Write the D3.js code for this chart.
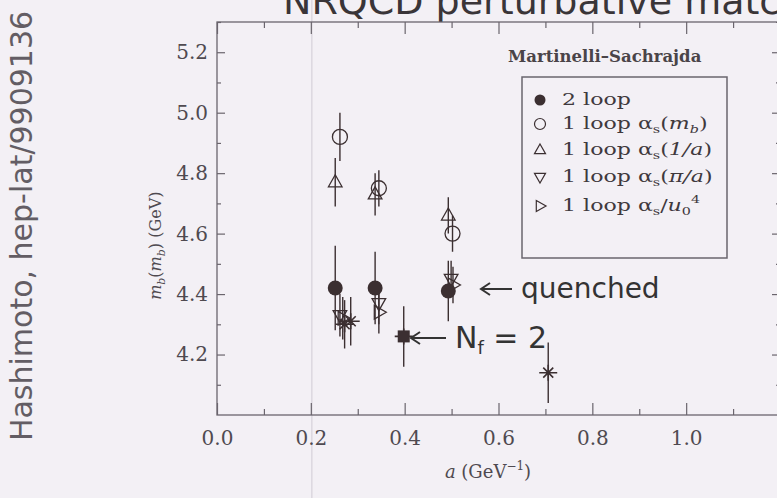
<!DOCTYPE html>
<html>
<head>
<meta charset="utf-8">
<script src="https://cdn.jsdelivr.net/npm/d3@7"></script>
<style>
  html, body { margin: 0; padding: 0; background: #f3f0f5; }
  svg { display: block; }
</style>
</head>
<body>
<svg id="chart" width="777" height="498"></svg>
<script>
// b-quark mass from NRQCD perturbative matching, quenched and N_f = 2 lattices
const xTicks = [0.0, 0.2, 0.4, 0.6, 0.8, 1.0];
const yTicks = [4.2, 4.4, 4.6, 4.8, 5.0, 5.2];
const legendLabels = ["2 loop", "1 loop αs(mb)", "1 loop αs(1/a)", "1 loop αs(π/a)", "1 loop αs/u0^4"];

// quenched results
const twoLoopA = [0.252, 0.337, 0.493];
const twoLoopM = [4.42, 4.42, 4.41];
const twoLoopErr = [0.14, 0.12, 0.10];

const alphaMbA = [0.262, 0.345, 0.502];
const alphaMbM = [4.92, 4.75, 4.60];
const alphaMbErr = [0.08, 0.06, 0.06];

const alphaInvA = [0.252, 0.337, 0.493];
const alphaInvM = [4.77, 4.73, 4.66];
const alphaInvErr = [0.08, 0.07, 0.06];

const alphaPiA = [0.262, 0.345, 0.499];
const alphaPiM = [4.33, 4.37, 4.45];
const alphaPiErr = [0.07, 0.07, 0.06];

const alphaU0A = [0.268, 0.345, 0.503];
const alphaU0M = [4.32, 4.34, 4.43];
const alphaU0Err = [0.07, 0.07, 0.06];

// N_f = 2 results
const nf2A = [0.272, 0.285, 0.398, 0.706];
const nf2M = [4.30, 4.31, 4.26, 4.14];
const nf2Err = [0.08, 0.08, 0.10, 0.10];
const nf2Filled = [false, false, true, false];

const svg = d3.select("#chart");
const W = 777, H = 498;
const ink = "#3b2f31";
const frameCol = "#6a656d";
const textCol = "#4f4a50";
const serif = "DejaVu Serif, serif";
const sans = "DejaVu Sans, sans-serif";

svg.append("rect").attr("width", W).attr("height", H).attr("fill", "#f3f0f5");

const x = d3.scaleLinear().domain([0, 1.2]).range([217, 780]);
const y = d3.scaleLinear().domain([4.0, 5.3]).range([415, 22]);

// faint vertical guide
svg.append("line")
  .attr("x1", x(0.2) + 1).attr("x2", x(0.2) + 1)
  .attr("y1", 0).attr("y2", H)
  .attr("stroke", "#dcd7df").attr("stroke-width", 1.5);

// title (runs past the top edge)
svg.append("text")
  .attr("x", 283).attr("y", 14)
  .attr("font-family", sans)
  .attr("font-size", 38)
  .attr("fill", "#3a3538")
  .text("NRQCD perturbative matching");

// side reference
svg.append("text")
  .attr("transform", "translate(32,226) rotate(-90)")
  .attr("text-anchor", "middle")
  .attr("font-family", sans)
  .attr("font-size", 30)
  .attr("fill", "#635d64")
  .text("Hashimoto, hep-lat/9909136");

// axes
const minorX = d3.range(0.1, 1.2, 0.2);
const minorY = d3.range(4.1, 5.3, 0.2);

function styleAxis(g) {
  g.select(".domain").remove();
  g.selectAll(".tick line").attr("stroke", frameCol).attr("stroke-width", 1.2);
  g.selectAll("text").attr("font-family", serif).attr("font-size", 20).attr("fill", textCol);
}

svg.append("g").attr("transform", `translate(0,${y(4.0)})`)
  .call(d3.axisBottom(x).tickValues(xTicks).tickFormat(d3.format(".1f")).tickSize(-12).tickPadding(16))
  .call(styleAxis);
svg.append("g").attr("transform", `translate(0,${y(4.0)})`)
  .call(d3.axisBottom(x).tickValues(minorX).tickFormat("").tickSize(-6))
  .call(styleAxis);
svg.append("g").attr("transform", `translate(0,${y(5.3)})`)
  .call(d3.axisTop(x).tickValues(xTicks.concat([1.2])).tickFormat("").tickSize(-12))
  .call(styleAxis);
svg.append("g").attr("transform", `translate(0,${y(5.3)})`)
  .call(d3.axisTop(x).tickValues(minorX).tickFormat("").tickSize(-6))
  .call(styleAxis);
svg.append("g").attr("transform", `translate(${x(0)},0)`)
  .call(d3.axisLeft(y).tickValues(yTicks).tickFormat(d3.format(".1f")).tickSize(-8).tickPadding(9))
  .call(styleAxis);
svg.append("g").attr("transform", `translate(${x(0)},0)`)
  .call(d3.axisLeft(y).tickValues(minorY).tickFormat("").tickSize(-4))
  .call(styleAxis);
svg.append("g").attr("transform", `translate(${x(1.2)},0)`)
  .call(d3.axisRight(y).tickValues(yTicks).tickFormat("").tickSize(-8))
  .call(styleAxis);
svg.append("g").attr("transform", `translate(${x(1.2)},0)`)
  .call(d3.axisRight(y).tickValues(minorY).tickFormat("").tickSize(-4))
  .call(styleAxis);

// frame
svg.append("rect")
  .attr("x", x(0)).attr("y", y(5.3))
  .attr("width", x(1.2) - x(0)).attr("height", y(4.0) - y(5.3))
  .attr("fill", "none").attr("stroke", frameCol).attr("stroke-width", 1.3);

// axis titles
const yLab = svg.append("text")
  .attr("transform", `translate(161,${y(4.56)}) rotate(-90)`)
  .attr("text-anchor", "middle")
  .attr("font-family", serif)
  .attr("font-size", 16)
  .attr("fill", textCol);
yLab.append("tspan").attr("font-style", "italic").text("m");
yLab.append("tspan").attr("font-size", 11).attr("dy", 4).attr("font-style", "italic").text("b");
yLab.append("tspan").attr("dy", -4).text("(");
yLab.append("tspan").attr("font-style", "italic").text("m");
yLab.append("tspan").attr("font-size", 11).attr("dy", 4).attr("font-style", "italic").text("b");
yLab.append("tspan").attr("dy", -4).text(") (GeV)");

const xLab = svg.append("text")
  .attr("x", 488).attr("y", 478)
  .attr("text-anchor", "middle")
  .attr("font-family", serif)
  .attr("font-size", 18)
  .attr("fill", textCol);
xLab.append("tspan").attr("font-style", "italic").text("a");
xLab.append("tspan").text(" (GeV");
xLab.append("tspan").attr("font-size", 12).attr("dy", -8).text("−1");
xLab.append("tspan").attr("dy", 8).text(")");

// marker shapes
function triPath(r, dir) {
  const h = r * 1.5, w = r * 1.7;
  if (dir === "up") return `M0,${-h * 0.62}L${w / 2},${h * 0.38}L${-w / 2},${h * 0.38}Z`;
  if (dir === "down") return `M0,${h * 0.62}L${w / 2},${-h * 0.38}L${-w / 2},${-h * 0.38}Z`;
  return `M${h * 0.62},0L${-h * 0.38},${w / 2}L${-h * 0.38},${-w / 2}Z`;
}

const plot = svg.append("g");

function drawErrors(A, M, E) {
  plot.selectAll(null).data(A.map((a, i) => ({a, m: M[i], e: E[i]})))
    .enter().append("line")
    .attr("x1", d => x(d.a)).attr("x2", d => x(d.a))
    .attr("y1", d => y(d.m + d.e)).attr("y2", d => y(d.m - d.e))
    .attr("stroke", ink).attr("stroke-width", 1.4);
}

function drawSeries(A, M, E, kind) {
  drawErrors(A, M, E);
  const pts = A.map((a, i) => ({a, m: M[i]}));
  const g = plot.selectAll(null).data(pts).enter().append("g")
    .attr("transform", d => `translate(${x(d.a)},${y(d.m)})`);
  if (kind === "filled") {
    g.append("circle").attr("r", 7.5).attr("fill", ink);
  } else if (kind === "open") {
    g.append("circle").attr("r", 7.5).attr("fill", "none").attr("stroke", ink).attr("stroke-width", 1.3);
  } else {
    g.append("path").attr("d", triPath(8, kind)).attr("fill", "none")
      .attr("stroke", ink).attr("stroke-width", 1.3);
  }
}

drawSeries(alphaMbA, alphaMbM, alphaMbErr, "open");
drawSeries(alphaInvA, alphaInvM, alphaInvErr, "up");
drawSeries(alphaPiA, alphaPiM, alphaPiErr, "down");
drawSeries(alphaU0A, alphaU0M, alphaU0Err, "right");
drawSeries(twoLoopA, twoLoopM, twoLoopErr, "filled");

// N_f = 2 points as asterisks
drawErrors(nf2A, nf2M, nf2Err);
const nf2 = plot.selectAll(null)
  .data(nf2A.map((a, i) => ({a, m: nf2M[i], f: nf2Filled[i]})))
  .enter().append("g")
  .attr("transform", d => `translate(${x(d.a)},${y(d.m)})`);
nf2.append("path")
  .attr("d", "M-9,0H9M-5,-5L5,5M-5,5L5,-5M0,-8V8")
  .attr("stroke", ink).attr("stroke-width", 1.6).attr("fill", "none");
nf2.filter(d => d.f).append("rect")
  .attr("x", -6).attr("y", -6).attr("width", 12).attr("height", 12)
  .attr("fill", ink);

// annotations
function arrow(x0, x1, yy) {
  svg.append("path")
    .attr("d", `M${x1},${yy}H${x0}M${x0 + 9},${yy - 6}L${x0},${yy}L${x0 + 9},${yy + 6}`)
    .attr("fill", "none").attr("stroke", "#333").attr("stroke-width", 2);
}
arrow(481, 512, 289);
svg.append("text")
  .attr("x", 521).attr("y", 298)
  .attr("font-family", sans)
  .attr("font-size", 28).attr("fill", "#333")
  .text("quenched");

arrow(411, 446, 338);
const nfText = svg.append("text")
  .attr("x", 455).attr("y", 348)
  .attr("font-family", sans)
  .attr("font-size", 30).attr("fill", "#333");
nfText.append("tspan").text("N");
nfText.append("tspan").attr("font-size", 18).attr("dy", 6).text("f");
nfText.append("tspan").attr("dy", -6).text(" = 2");

// legend
svg.append("text")
  .attr("x", 508).attr("y", 62)
  .attr("font-family", serif).attr("font-size", 16.5).attr("font-weight", "bold")
  .attr("fill", "#4a4448")
  .text("Martinelli–Sachrajda");

svg.append("rect")
  .attr("x", 522).attr("y", 77).attr("width", 205).attr("height", 181)
  .attr("fill", "#f3f0f5").attr("stroke", frameCol).attr("stroke-width", 1.5);

const legendKinds = ["filled", "open", "up", "down", "right"];
const legendY = [100, 124, 150, 177, 206];
legendLabels.forEach((lab, i) => {
  const gy = legendY[i];
  const g = svg.append("g").attr("transform", `translate(540,${gy})`);
  const k = legendKinds[i];
  if (k === "filled") g.append("circle").attr("r", 5.5).attr("fill", ink);
  else if (k === "open") g.append("circle").attr("r", 5.5).attr("fill", "none").attr("stroke", ink).attr("stroke-width", 1.2);
  else g.append("path").attr("d", triPath(6.5, k)).attr("fill", "none").attr("stroke", ink).attr("stroke-width", 1.2);

  // entry text is set slightly wide
  const t = svg.append("text")
    .attr("transform", `translate(562,${gy + 5}) scale(1.3,1)`)
    .attr("font-family", serif).attr("font-size", 17).attr("fill", "#3f393d");
  if (i === 0) { t.text(lab); return; }
  t.append("tspan").text("1 loop α");
  t.append("tspan").attr("font-size", 11).attr("dy", 4).text("s");
  if (i === 1) {
    t.append("tspan").attr("dy", -4).text("(");
    t.append("tspan").attr("font-style", "italic").text("m");
    t.append("tspan").attr("font-size", 11).attr("dy", 4).attr("font-style", "italic").text("b");
    t.append("tspan").attr("dy", -4).text(")");
  } else if (i === 2) {
    t.append("tspan").attr("dy", -4).text("(");
    t.append("tspan").attr("font-style", "italic").text("1/a");
    t.append("tspan").text(")");
  } else if (i === 3) {
    t.append("tspan").attr("dy", -4).text("(");
    t.append("tspan").attr("font-style", "italic").text("π/a");
    t.append("tspan").text(")");
  } else {
    t.append("tspan").attr("dy", -4).text("/");
    t.append("tspan").attr("font-style", "italic").text("u");
    t.append("tspan").attr("font-size", 11).attr("dy", 4).text("0");
    t.append("tspan").attr("font-size", 11).attr("dy", -12).text("4");
  }
});
</script>
</body>
</html>
